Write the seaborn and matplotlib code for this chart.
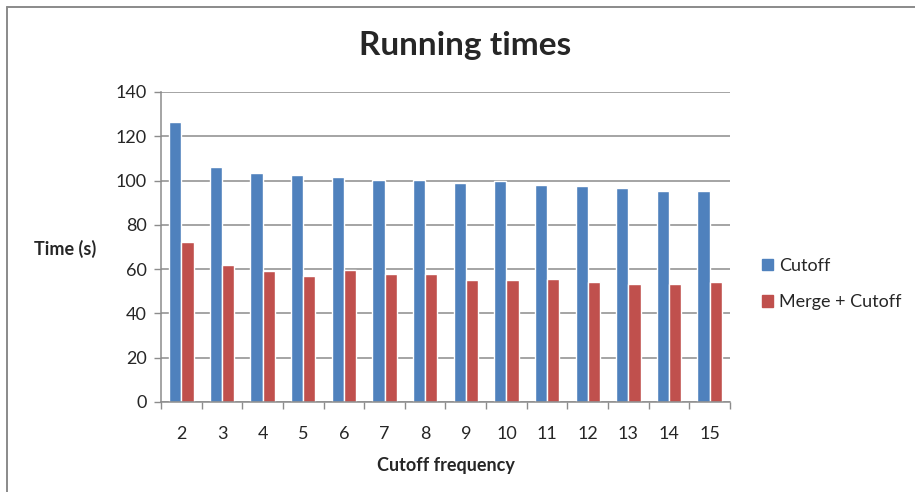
import numpy as np
import pandas as pd
import matplotlib
matplotlib.use("Agg")
import matplotlib.pyplot as plt
import matplotlib.patches as mpatches
import matplotlib.lines as mlines
import seaborn as sns

# Running times per cutoff frequency
frequencies = [2, 3, 4, 5, 6, 7, 8, 9, 10, 11, 12, 13, 14, 15]
cutoff = [126.4, 106.3, 103.6, 102.3, 101.6, 100.1, 100.1, 98.8, 99.7, 98.2, 97.4, 96.8, 95.5, 95.5]
merge_cutoff = [72.1, 61.7, 59.0, 56.8, 59.7, 57.6, 57.6, 54.9, 54.9, 55.5, 54.1, 53.5, 53.5, 54.1]
series_names = ["Cutoff", "Merge + Cutoff"]
y_ticks = [0, 20, 40, 60, 80, 100, 120, 140]

df = pd.DataFrame({
    "freq": [str(f) for f in frequencies] * 2,
    "time": cutoff + merge_cutoff,
    "series": [series_names[0]] * len(frequencies) + [series_names[1]] * len(frequencies),
})

sns.set_theme(style="white")
plt.rcParams["font.family"] = ["Lato", "DejaVu Sans"]

grid_col = "#8c8c8c"
fs = 13
fig = plt.figure(figsize=(9.15, 4.92), dpi=100)
ax = fig.add_axes([161 / 915, 1 - 402 / 492, (730 - 161) / 915, (402 - 92) / 492])

sns.barplot(data=df, x="freq", y="time", hue="series", ax=ax,
            palette=["#4F81BD", "#C0504D"], width=0.6, saturation=1,
            order=[str(f) for f in frequencies], hue_order=series_names,
            errorbar=None, legend=False)

ax.set_ylim(0, 140)
ax.set_xlim(-0.5, len(frequencies) - 0.5)
ax.set_yticks(y_ticks)
ax.set_yticklabels([str(t) for t in y_ticks], fontsize=fs)
ax.yaxis.grid(True, color=grid_col, linewidth=1.1)
ax.set_axisbelow(True)

# Category ticks sit between groups, labels under each group
ax.set_xticks(np.arange(-0.5, len(frequencies), 1.0), minor=True)
ax.tick_params(axis="x", which="major", length=0, pad=17, labelsize=fs)
ax.tick_params(axis="x", which="minor", length=5, width=1, color=grid_col, bottom=True)
ax.tick_params(axis="y", which="major", length=5, width=1, color=grid_col, left=True, pad=5)

for side in ["top", "right"]:
    ax.spines[side].set_visible(False)
for side in ["left", "bottom"]:
    ax.spines[side].set_color(grid_col)
    ax.spines[side].set_linewidth(1.1)

ax.set_xlabel("Cutoff frequency", fontsize=fs, fontweight="bold", labelpad=11)
ax.set_ylabel("")
fig.text(65 / 915, 1 - 249 / 492, "Time (s)", fontsize=fs, fontweight="bold",
         ha="center", va="center")
fig.text(465 / 915, 1 - 46 / 492, "Running times", fontsize=24, fontweight="bold",
         ha="center", va="center")

handles = [mpatches.Patch(color="#4F81BD", label=series_names[0]),
           mpatches.Patch(color="#C0504D", label=series_names[1])]
fig.legend(handles=handles, loc="center left", bbox_to_anchor=(762 / 915, 1 - 284 / 492),
           frameon=False, fontsize=fs, handlelength=0.6, handleheight=0.6,
           handletextpad=0.35, labelspacing=1.15, borderpad=0, borderaxespad=0)

# Frame edges along the top and left of the chart
x0, y0 = 6.5 / 915, 1 - 6.5 / 492
fig.add_artist(mlines.Line2D([x0, 1.0], [y0, y0], transform=fig.transFigure,
                             color="#8a8a8a", linewidth=1.4))
fig.add_artist(mlines.Line2D([x0, x0], [0.0, y0], transform=fig.transFigure,
                             color="#8a8a8a", linewidth=1.4))

fig.savefig("out.png", dpi=100, facecolor="white")
